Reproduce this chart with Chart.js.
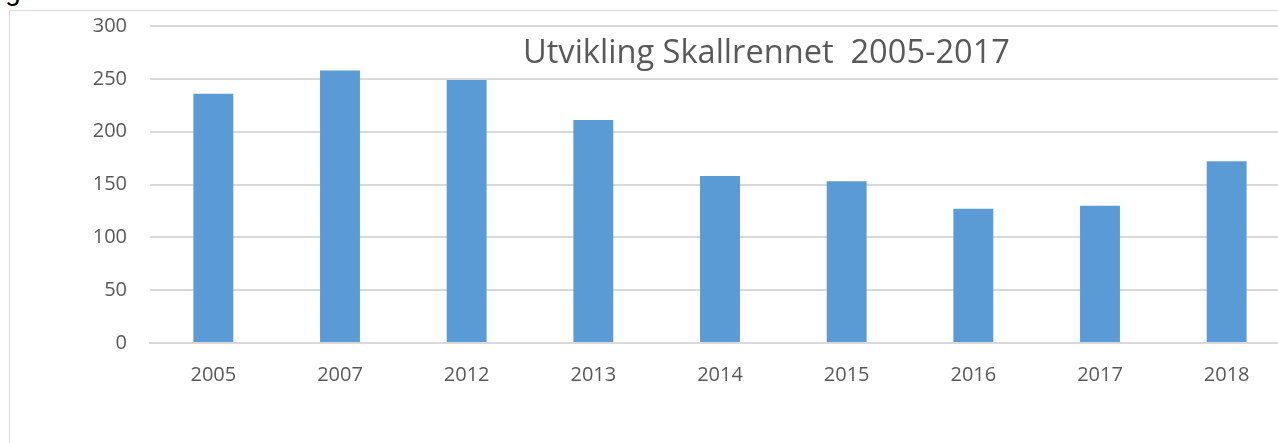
<!DOCTYPE html>
<html>
<head>
<meta charset="utf-8">
<script src="https://cdn.jsdelivr.net/npm/chart.js@4/dist/chart.umd.min.js"></script>
<style>
  html, body { margin: 0; padding: 0; background: #fff; overflow: hidden; width: 1278px; height: 443px; }
  #frag { position: absolute; left: 5px; top: -26px; font-family: Roboto, sans-serif; font-size: 28px; color: #000; }
  #box { position: absolute; left: 9px; top: 10px; width: 1300px; height: 460px; border: 1px solid #d9d9d9; background: #fff; }
  #wrap { position: absolute; left: 0; top: -20px; width: 1300px; height: 452px; }
  #title { position: absolute; left: 0; top: 0; white-space: pre; font-family: "Open Sans", sans-serif; font-size: 32px; color: #595959; transform-origin: 0 0; }
</style>
</head>
<body>
<div id="frag">g</div>
<div id="box">
  <div id="wrap"><canvas id="c"></canvas></div>
  <div id="title">Utvikling Skallrennet  2005-2017</div>
</div>
<script>
const categories = ["2005", "2007", "2012", "2013", "2014", "2015", "2016", "2017", "2018"];
const values = [236, 258, 249, 211, 158, 153, 127, 130, 172];
const yTicks = [0, 50, 100, 150, 200, 250, 300];
const titleText = "Utvikling Skallrennet  2005-2017";

const textColor = "#595959";
const gridColor = "#d9d9d9";
const tickFont = { family: "Open Sans", size: 20 };

new Chart(document.getElementById("c"), {
  type: "bar",
  data: {
    labels: categories,
    datasets: [{
      data: values,
      backgroundColor: "#5b9bd5",
      borderWidth: 0,
      barPercentage: 0.63,
      categoryPercentage: 0.5
    }]
  },
  options: {
    responsive: true,
    maintainAspectRatio: false,
    animation: false,
    layout: { padding: { top: 0, right: 20, left: 0, bottom: 0 } },
    plugins: { legend: { display: false }, tooltip: { enabled: false }, title: { display: false } },
    scales: {
      x: {
        grid: { display: false, drawTicks: false },
        border: { display: true, color: gridColor, width: 2 },
        ticks: { color: textColor, font: tickFont, padding: 20, maxRotation: 0 },
        afterFit: (s) => { s.height = 100; }
      },
      y: {
        min: 0, max: 300,
        afterBuildTicks: (s) => { s.ticks = yTicks.map(v => ({ value: v })); },
        grid: { color: gridColor, lineWidth: 2, drawTicks: false },
        border: { display: false },
        ticks: { color: textColor, font: tickFont, padding: 23 },
        afterFit: (s) => { s.width = 140; }
      }
    }
  }
});

const t = document.getElementById("title");
t.textContent = titleText;
const w = t.getBoundingClientRect().width;
const targetW = 487;
t.style.transform = "scaleX(" + (targetW / w) + ")";
t.style.left = (523 - 10) + "px";
t.style.top = "18px";
</script>
</body>
</html>
